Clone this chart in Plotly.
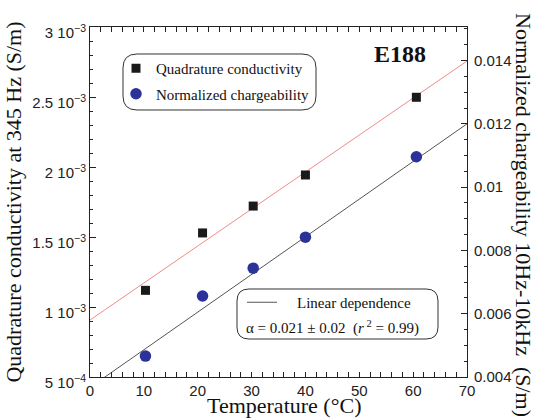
import plotly.graph_objects as go

# ---- data ----
temperature = [10.3, 20.9, 30.3, 40.0, 60.6]
quad_conductivity = [1.119e-3, 1.529e-3, 1.721e-3, 1.943e-3, 2.498e-3]
norm_chargeability = [0.00466, 0.00656, 0.00744, 0.00842, 0.01096]
fit_x = [0, 70]
fit_conductivity = [0.907e-3, 2.757e-3]
fit_chargeability = [0.00367, 0.01200]

left_tickvals = [5e-4, 1e-3, 1.5e-3, 2e-3, 2.5e-3, 3e-3]
left_ticktext = ["5 10<sup>\u22124</sup>", "1 10<sup>\u22123</sup>", "1.5 10<sup>\u22123</sup>",
                 "2 10<sup>\u22123</sup>", "2.5 10<sup>\u22123</sup>", "3 10<sup>\u22123</sup>"]
right_tickvals = [0.004, 0.006, 0.008, 0.010, 0.012, 0.014]
right_ticktext = ["0.004", "0.006", "0.008", "0.01", "0.012", "0.014"]

# ---- layout geometry (pixels) ----
W, H = 536, 420
L, R, T, B = 90, 467, 27, 377
PW, PH = R - L, B - T

def pp(px, py):
    return (px - L) / PW, (B - py) / PH

def rounded_rect(x0, y0, x1, y1, r):
    pts = [("M", [(x0 + r, y0)]), ("L", [(x1 - r, y0)]), ("Q", [(x1, y0), (x1, y0 + r)]),
           ("L", [(x1, y1 - r)]), ("Q", [(x1, y1), (x1 - r, y1)]), ("L", [(x0 + r, y1)]),
           ("Q", [(x0, y1), (x0, y1 - r)]), ("L", [(x0, y0 + r)]), ("Q", [(x0, y0), (x0 + r, y0)])]
    s = ""
    for cmd, p in pts:
        s += cmd + " " + " ".join("%.5f,%.5f" % pp(a, b) for a, b in p) + " "
    return s + "Z"

SERIF = "Liberation Serif, Times New Roman, serif"
SANS = "Liberation Sans, Arial, sans-serif"

fig = go.Figure()
fig.add_trace(go.Scatter(x=fit_x, y=fit_conductivity, mode="lines",
                         line=dict(color="#f08a8a", width=1), showlegend=False, yaxis="y"))
fig.add_trace(go.Scatter(x=fit_x, y=fit_chargeability, mode="lines", name="\u00a0\u00a0\u00a0\u00a0Linear dependence",
                         line=dict(color="#555555", width=1), yaxis="y2", legend="legend2"))
fig.add_trace(go.Scatter(x=temperature, y=quad_conductivity, mode="markers", name="Quadrature conductivity",
                         marker=dict(symbol="square", size=9, color="#1a1a1a"), yaxis="y",
                         legendgroup="a"))
fig.add_trace(go.Scatter(x=temperature, y=norm_chargeability, mode="markers", name="Normalized chargeability",
                         marker=dict(symbol="circle", size=11.5, color="#2b339a"), yaxis="y2",
                         legendgroup="b"))

axis_common = dict(showline=True, linecolor="#222", linewidth=1, ticks="inside", tickcolor="#222",
                   showgrid=False, zeroline=False, automargin=False,
                   tickfont=dict(family=SANS, size=15, color="#222"))

lx, ly = pp(116, 52)
l2x, l2y = pp(242, 286)
fig.update_layout(
    template="none",
    width=W, height=H,
    margin=dict(l=L, r=W - R, t=T, b=H - B),
    paper_bgcolor="white", plot_bgcolor="white",
    xaxis=dict(range=[0, 70], dtick=10, ticklen=5, mirror="allticks",
               minor=dict(dtick=2, ticklen=3, ticks="inside", tickcolor="#222"),
               **axis_common),
    yaxis=dict(range=[5e-4, 3e-3], tickmode="array", tickvals=left_tickvals, ticktext=left_ticktext,
               ticklen=6, ticklabelshift=6,
               minor=dict(dtick=1e-4, tick0=0, ticklen=3, ticks="inside", tickcolor="#222"),
               title=dict(text="Quadrature conductivity at 345 Hz (S/m)",
                          font=dict(family=SERIF, size=22, color="#111"), standoff=4),
               **axis_common),
    yaxis2=dict(range=[0.004, 0.01506], overlaying="y", side="right", tickmode="array",
                tickvals=right_tickvals, ticktext=right_ticktext, ticklen=6, ticklabelstandoff=3,
                minor=dict(dtick=0.0005, tick0=0, ticklen=3, ticks="inside", tickcolor="#222"),
                **axis_common),
    legend=dict(x=lx, y=ly, xanchor="left", yanchor="top", bgcolor="rgba(0,0,0,0)", borderwidth=0,
                font=dict(family=SERIF, size=15, color="#111"), traceorder="grouped", tracegroupgap=3),
    legend2=dict(x=l2x, y=l2y, xanchor="left", yanchor="top", bgcolor="rgba(0,0,0,0)", borderwidth=0,
                 font=dict(family=SERIF, size=15, color="#111")),
    shapes=[
        dict(type="path", xref="paper", yref="paper", path=rounded_rect(123, 54, 316, 110, 14),
             line=dict(color="#333", width=1)),
        dict(type="path", xref="paper", yref="paper", path=rounded_rect(237, 289, 438, 339, 12),
             line=dict(color="#333", width=1)),
    ],
    annotations=[
        dict(text="<b>E188</b>", xref="paper", yref="paper", x=pp(400, 54)[0], y=pp(400, 54)[1],
             xanchor="center", yanchor="middle",
             showarrow=False, font=dict(family=SERIF, size=24, color="#111")),
        dict(text="\u03b1 = 0.021 \u00b1 0.02  (<i>r</i><sup> 2</sup> = 0.99)", xref="paper", yref="paper",
             x=pp(244, 327)[0], y=pp(244, 327)[1], xanchor="left", yanchor="middle", showarrow=False,
             font=dict(family=SERIF, size=15, color="#111")),
        dict(text="Temperature (\u00b0C)", xref="paper", yref="paper",
             x=pp(284, 406)[0], y=pp(284, 406)[1], xanchor="center", yanchor="middle",
             showarrow=False, font=dict(family=SERIF, size=22, color="#111")),
        dict(text="Normalized chargeability 10Hz-10kHz\u00a0\u00a0(S/m)", xref="paper", yref="paper",
             x=pp(524, 215)[0], y=pp(524, 215)[1], textangle=90, xanchor="center", yanchor="middle",
             showarrow=False, font=dict(family=SERIF, size=22, color="#111")),
    ],
)

fig.write_html("out.html")
